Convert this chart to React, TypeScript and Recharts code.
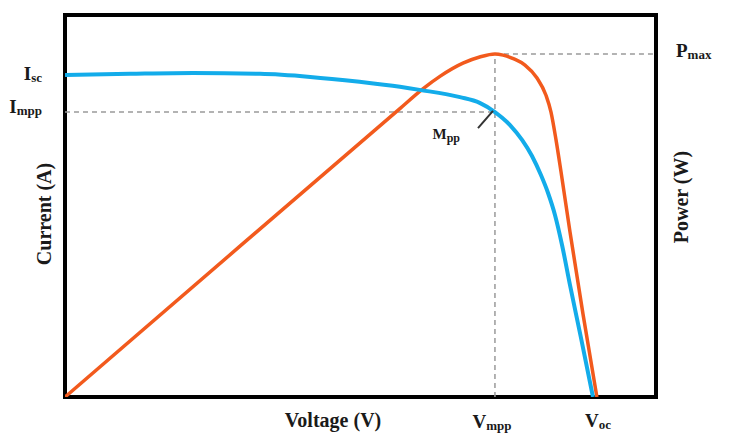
import { LineChart, Line, XAxis, YAxis, ReferenceLine, ReferenceArea, ReferenceDot } from 'recharts';

// I-V curve (blue)
const ivVoltage = [0, 6.6, 13.0, 19.8, 24.9, 29.9, 34.0, 36.0, 40.1, 42.1, 43.65, 45.18, 46.4, 47.41, 48.32, 49.04, 49.75, 50.46, 51.27, 52.39, 53.6];
const ivCurrent = [8.43, 8.46, 8.48, 8.46, 8.38, 8.25, 8.12, 8.04, 7.85, 7.7, 7.46, 7.12, 6.73, 6.31, 5.81, 5.34, 4.76, 3.98, 2.93, 1.54, 0];

// P-V curve (orange)
const pvVoltage = [0, 18, 34, 36.3, 38.1, 40.4, 42.1, 43.65, 44.47, 45.58, 46.7, 47.92, 48.83, 49.34, 49.85, 50.36, 51.27, 52.59, 54.0];
const pvPower = [0, 4.0, 7.55, 8.06, 8.4, 8.74, 8.9, 8.98, 8.95, 8.85, 8.69, 8.35, 7.9, 7.46, 6.73, 5.89, 4.32, 2.17, 0];

const Isc = 8.43;
const Impp = 7.46;
const Vmpp = 43.65;
const Voc = 54;
const Pmax = 8.98;
// short pointer line towards the MPP
const mppTail = { v: 41.93, i: 7.04 };
const mppHead = { v: 43.45, i: 7.49 };

const currentTicks = [Impp, Isc];
const currentTickLabels = [['I', 'mpp'], ['I', 'sc']];
const powerTicks = [Pmax];
const powerTickLabels = [['P', 'max']];
const voltageTicks = [Vmpp, Voc];
const voltageTickLabels = [['V', 'mpp'], ['V', 'oc']];

const ivData = ivVoltage.map((v, k) => ({ v, i: ivCurrent[k] }));
const pvData = pvVoltage.map((v, k) => ({ v, p: pvPower[k] }));

const FONT = "'Liberation Serif', 'Times New Roman', serif";
const INK = '#1a1a1a';
const DASH = '#9a9a9a';

// small per-label nudges so each label sits where it does in the figure
const nudge: Record<string, { dx: number; dy: number }> = {
  Isc: { dx: 0, dy: 5 },
  Impp: { dx: 0, dy: 1 },
  Pmax: { dx: 0, dy: 3 },
  Vmpp: { dx: -3, dy: 31 },
  Voc: { dx: 1, dy: 30 },
};

function SubLabel({ x, y, payload, ticks, labels, anchor }: any) {
  const idx = ticks.indexOf(payload.value);
  if (idx < 0) return null;
  const [main, sub] = labels[idx];
  const n = nudge[main + sub] || { dx: 0, dy: 0 };
  return (
    <text
      x={x + n.dx}
      y={y + n.dy}
      textAnchor={anchor}
      fontFamily={FONT}
      fontWeight="bold"
      fill={INK}
      fontSize={19}
    >
      <tspan>{main}</tspan>
      <tspan fontSize={13} dy={2}>{sub}</tspan>
    </text>
  );
}

function AxisTitle({ viewBox, text, fx, fy, rotate }: any) {
  const x = viewBox.x + fx;
  const y = viewBox.y + fy;
  return (
    <text
      x={x}
      y={y}
      textAnchor="middle"
      fontFamily={FONT}
      fontWeight="bold"
      fontSize={20}
      fill={INK}
      transform={rotate ? `rotate(-90, ${x}, ${y})` : undefined}
    >
      {text}
    </text>
  );
}

function MppLabel({ viewBox }: any) {
  const x = viewBox.x + viewBox.width / 2 - 18;
  const y = viewBox.y + viewBox.height / 2 + 11;
  return (
    <text x={x} y={y} textAnchor="end" fontFamily={FONT} fontWeight="bold" fontSize={15} fill={INK}>
      <tspan>M</tspan>
      <tspan fontSize={12} dy={3}>pp</tspan>
    </text>
  );
}

export default function App() {
  return (
    <div style={{ position: 'absolute', left: 0, top: 0, width: 730, height: 434, background: '#fff' }}>
      <LineChart width={730} height={434} margin={{ top: 15, right: 0, bottom: 0, left: 0 }}>
        <XAxis
          dataKey="v"
          type="number"
          domain={[0, 60]}
          ticks={voltageTicks}
          interval={0}
          height={37}
          axisLine={false}
          tickLine={false}
          tickSize={0}
          tickMargin={0}
          allowDataOverflow
          tick={(props: any) => <SubLabel {...props} ticks={voltageTicks} labels={voltageTickLabels} anchor="middle" />}
          label={{ content: (p: any) => <AxisTitle viewBox={p.viewBox} text="Voltage (V)" fx={268} fy={30} /> }}
        />
        <YAxis
          yAxisId="current"
          type="number"
          domain={[0, 10]}
          ticks={currentTicks}
          interval={0}
          width={65}
          axisLine={false}
          tickLine={false}
          tickSize={0}
          tickMargin={23}
          allowDataOverflow
          tick={(props: any) => <SubLabel {...props} ticks={currentTicks} labels={currentTickLabels} anchor="end" />}
          label={{ content: (p: any) => <AxisTitle viewBox={p.viewBox} text="Current (A)" fx={51} fy={199} rotate /> }}
        />
        <YAxis
          yAxisId="power"
          orientation="right"
          type="number"
          domain={[0, 10]}
          ticks={powerTicks}
          interval={0}
          width={74}
          axisLine={false}
          tickLine={false}
          tickSize={0}
          tickMargin={20}
          allowDataOverflow
          tick={(props: any) => <SubLabel {...props} ticks={powerTicks} labels={powerTickLabels} anchor="start" />}
          label={{ content: (p: any) => <AxisTitle viewBox={p.viewBox} text="Power (W)" fx={32} fy={182} rotate /> }}
        />

        <ReferenceLine
          yAxisId="current"
          segment={[{ x: 0, y: Impp }, { x: Vmpp, y: Impp }]}
          stroke={DASH}
          strokeWidth={1.5}
          strokeDasharray="5 4"
        />
        <ReferenceLine
          yAxisId="power"
          segment={[{ x: Vmpp, y: 0 }, { x: Vmpp, y: Pmax }]}
          stroke={DASH}
          strokeWidth={1.5}
          strokeDasharray="5 4"
        />
        <ReferenceLine
          yAxisId="power"
          segment={[{ x: Vmpp, y: Pmax }, { x: 60, y: Pmax }]}
          stroke={DASH}
          strokeWidth={1.5}
          strokeDasharray="5 4"
        />

        <Line
          yAxisId="power"
          data={pvData}
          dataKey="p"
          type="monotone"
          stroke="#F25A1D"
          strokeWidth={3.5}
          dot={false}
          activeDot={false}
          isAnimationActive={false}
        />
        <Line
          yAxisId="current"
          data={ivData}
          dataKey="i"
          type="monotone"
          stroke="#13ACEA"
          strokeWidth={4}
          dot={false}
          activeDot={false}
          isAnimationActive={false}
        />

        <ReferenceLine
          yAxisId="current"
          segment={[{ x: mppTail.v, y: mppTail.i }, { x: mppHead.v, y: mppHead.i }]}
          stroke="#333"
          strokeWidth={2}
        />
        <ReferenceDot
          yAxisId="current"
          x={mppTail.v}
          y={mppTail.i}
          r={0}
          fill="none"
          stroke="none"
          label={{ content: (p: any) => <MppLabel viewBox={p.viewBox} /> }}
        />

        <ReferenceArea
          yAxisId="current"
          x1={0}
          x2={60}
          y1={0}
          y2={10}
          fill="none"
          fillOpacity={0}
          stroke="#000"
          strokeWidth={4}
        />
      </LineChart>
    </div>
  );
}
